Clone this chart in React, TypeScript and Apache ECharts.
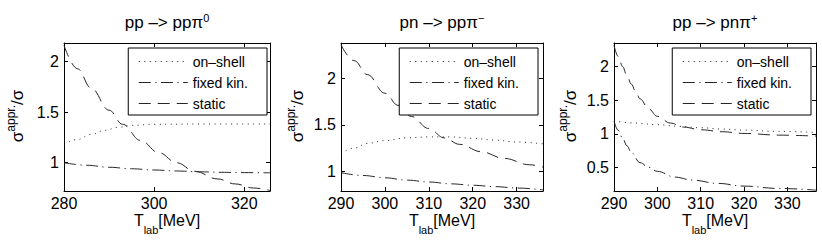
import React, { useEffect, useRef } from 'react';
import * as echarts from 'echarts';

// ---- data ----
const seriesNames = ['on–shell', 'fixed kin.', 'static'];

const xTicks1 = [280, 300, 320];
const xTicks2 = [290, 300, 310, 320, 330];
const xTicks3 = [290, 300, 310, 320, 330];
const yTicks1 = [1, 1.5, 2];
const yTicks2 = [1, 1.5, 2];
const yTicks3 = [0.5, 1, 1.5, 2];

// pp -> pp pi0
const onShell1 = [[280, 1.18], [283, 1.23], [286, 1.28], [289, 1.32], [292, 1.35], [295, 1.37], [300, 1.38], [310, 1.383], [325.7, 1.383]];
const fixedKin1 = [[280, 1.0], [285, 0.975], [290, 0.955], [295, 0.94], [300, 0.928], [305, 0.918], [310, 0.91], [315, 0.905], [320, 0.902], [325.7, 0.9]];
const static1 = [[280, 2.16], [283, 1.93], [286, 1.74], [290, 1.52], [293, 1.38], [297, 1.22], [301, 1.1], [305, 1.0], [309, 0.915], [314, 0.84], [318, 0.79], [322, 0.75], [325.7, 0.725]];

// pn -> pp pi-
const onShell2 = [[290, 1.19], [293, 1.25], [296, 1.3], [300, 1.33], [305, 1.36], [310, 1.37], [315, 1.37], [320, 1.355], [325, 1.335], [330, 1.315], [336, 1.295]];
const fixedKin2 = [[290, 0.985], [295, 0.955], [300, 0.93], [305, 0.905], [310, 0.885], [315, 0.865], [320, 0.85], [325, 0.835], [330, 0.82], [336, 0.8]];
const static2 = [[290, 2.36], [293, 2.19], [296, 2.04], [300, 1.84], [303, 1.71], [306, 1.59], [310, 1.46], [313.5, 1.36], [317, 1.29], [322, 1.21], [327, 1.14], [333, 1.07], [336, 1.045]];

// pp -> pn pi+
const onShell3 = [[290, 1.19], [295, 1.16], [300, 1.135], [305, 1.11], [310, 1.09], [315, 1.07], [320, 1.055], [328, 1.035], [336.6, 1.02]];
const fixedKin3 = [[290, 1.19], [291, 1.05], [292, 0.93], [293, 0.82], [294, 0.72], [296, 0.57], [298, 0.5], [300, 0.44], [304, 0.355], [308, 0.31], [314, 0.26], [320, 0.22], [328, 0.185], [336.6, 0.16]];
const static3 = [[290, 2.32], [291, 2.15], [292, 2.0], [293, 1.86], [294, 1.74], [295, 1.63], [296, 1.52], [298, 1.37], [300, 1.26], [303, 1.16], [306, 1.1], [310, 1.06], [315, 1.03], [320, 1.005], [328, 0.98], [336.6, 0.965]];

const xRanges = [[280, 325.7], [290, 336], [290, 336.6]];
const yRanges = [[0.72, 2.185], [0.788, 2.38], [0.147, 2.353]];

// ---- layout / style ----
const FONT = "'Liberation Sans', Arial, Helvetica, sans-serif";
const INK = '#000000';
const LINE = '#262626';
const grids = [
  { left: 64, top: 43, width: 206, height: 148 },
  { left: 341, top: 43, width: 202, height: 148 },
  { left: 614, top: 43, width: 202, height: 148 },
];
const legendRight = [555, 284, 11];
const yNameBaseX = [23.5, 303.5, 576];

const dotted = [1, 4.5];
const dashDot = [12, 4.5, 1.2, 4.5];
const dashed = [12, 7];

let ctx: CanvasRenderingContext2D | null = null;
function measure(text: string, size: number) {
  if (!ctx) ctx = document.createElement('canvas').getContext('2d');
  if (!ctx) return text.length * size * 0.55;
  ctx.font = `${size}px ${FONT}`;
  return ctx.measureText(text).width;
}

// parts: [text, fontSize, baselineShift]; returns a group whose text starts at local x=0, main baseline at local y=0
function composed(parts: [string, number, number][]) {
  let x = 0;
  const children: any[] = [];
  parts.forEach(([text, size, shift]) => {
    children.push({
      type: 'text', x, y: shift - 0.35 * size, silent: true,
      style: { text, fill: INK, fontFamily: FONT, fontSize: size, align: 'left', verticalAlign: 'middle' },
    });
    x += measure(text, size);
  });
  return { children, width: x };
}

function buildOption() {
  const panels = [
    { x: xTicks1, y: yTicks1, data: [onShell1, fixedKin1, static1] },
    { x: xTicks2, y: yTicks2, data: [onShell2, fixedKin2, static2] },
    { x: xTicks3, y: yTicks3, data: [onShell3, fixedKin3, static3] },
  ];
  const titles = [
    ['pp –> ppπ', '0'],
    ['pn –> ppπ', '−'],
    ['pp –> pnπ', '+'],
  ];
  const styles = [dotted, dashDot, dashed];

  const xAxis: any[] = [];
  const yAxis: any[] = [];
  const series: any[] = [];
  const legend: any[] = [];
  const graphic: any[] = [];

  panels.forEach((p, i) => {
    const axLine = { show: true, lineStyle: { color: INK, width: 1 } };
    const tick = (vals: number[]) => ({ show: true, inside: true, length: 4, customValues: vals, lineStyle: { color: INK, width: 1 } });
    const lab = (vals: number[], margin: number) => ({
      show: true, customValues: vals, fontSize: 16, fontFamily: FONT, color: INK, margin,
    });
    xAxis.push({
      type: 'value', gridIndex: i, position: 'bottom', min: xRanges[i][0], max: xRanges[i][1],
      axisLine: axLine, axisTick: tick(p.x), axisLabel: lab(p.x, 4), splitLine: { show: false },
    });
    xAxis.push({
      type: 'value', gridIndex: i, position: 'top', min: xRanges[i][0], max: xRanges[i][1],
      axisLine: axLine, axisTick: tick(p.x), axisLabel: { show: false }, splitLine: { show: false },
    });
    yAxis.push({
      type: 'value', gridIndex: i, position: 'left', min: yRanges[i][0], max: yRanges[i][1],
      axisLine: axLine, axisTick: tick(p.y), axisLabel: lab(p.y, 5), splitLine: { show: false },
    });
    yAxis.push({
      type: 'value', gridIndex: i, position: 'right', min: yRanges[i][0], max: yRanges[i][1],
      axisLine: axLine, axisTick: tick(p.y), axisLabel: { show: false }, splitLine: { show: false },
    });
    p.data.forEach((d, k) => {
      series.push({
        type: 'line', name: seriesNames[k], xAxisIndex: 2 * i, yAxisIndex: 2 * i,
        data: d, symbol: 'none', showSymbol: false, smooth: 0.4, smoothMonotone: 'x',
        lineStyle: { color: LINE, width: 1, type: styles[k] }, itemStyle: { color: LINE },
        emphasis: { disabled: true },
      });
    });
    legend.push({
      data: seriesNames, orient: 'vertical', right: legendRight[i], top: 48,
      itemWidth: 49, itemHeight: 14, itemGap: 0, itemStyle: { opacity: 0 },
      lineStyle: { width: 1, color: LINE },
      selectedMode: false, padding: [3, 19, 1, 10], borderColor: INK, borderWidth: 1, borderRadius: 0,
      backgroundColor: '#fff', textStyle: { fontSize: 14, fontFamily: FONT, color: INK, lineHeight: 21 },
      itemTextGap: 6,
    });
    const g = grids[i];
    const cx = g.left + g.width / 2;
    // title: main text + superscript
    const t = composed([[titles[i][0], 17, 0], [titles[i][1], 11, -6.8]]);
    graphic.push({ type: 'group', x: cx - t.width / 2, y: 28.5, children: t.children });
    // x axis name: T_lab[MeV]
    const xn = composed([['T', 16, 0], ['lab', 11, 7.5], ['[MeV]', 16, 0]]);
    graphic.push({ type: 'group', x: cx - xn.width / 2, y: 226.5, children: xn.children });
    // y axis name: sigma^appr./sigma (rotated, reading upwards)
    const yn = composed([['σ', 17, 0], ['appr.', 12, -8.5], ['/σ', 17, 0]]);
    graphic.push({
      type: 'group', x: yNameBaseX[i], y: 116 + yn.width / 2, rotation: Math.PI / 2, children: yn.children,
    });
  });

  return {
    animation: false,
    backgroundColor: '#fff',
    grid: grids.map((g) => ({ ...g, containLabel: false })),
    xAxis, yAxis, series, legend, graphic,
  };
}

export default function App() {
  const ref = useRef<HTMLDivElement>(null);
  useEffect(() => {
    if (!ref.current) return;
    const chart = echarts.init(ref.current, undefined, { renderer: 'svg' });
    chart.setOption(buildOption() as any);
    return () => chart.dispose();
  }, []);
  return <div ref={ref} style={{ position: 'fixed', left: 0, top: 0, width: 822, height: 244 }} />;
}
